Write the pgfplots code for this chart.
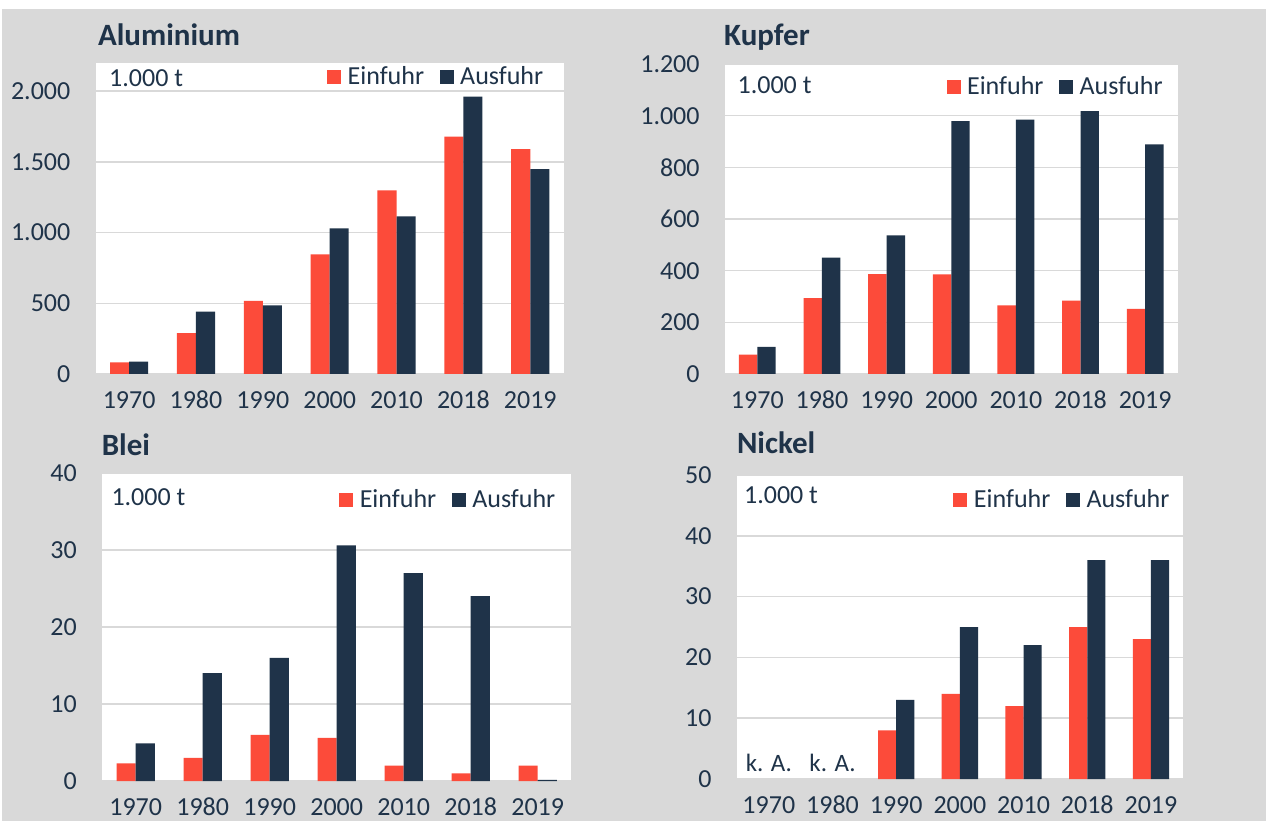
\documentclass[border=0pt]{standalone}
\usepackage{fontspec}
\setmainfont{Carlito}
\usepackage{pgfplots}
\pgfplotsset{compat=1.18}

\definecolor{ein}{HTML}{FC4B3A}
\definecolor{aus}{HTML}{1F3349}
\definecolor{bg}{HTML}{D9D9D9}
\definecolor{gridc}{HTML}{D9D9D9}
\definecolor{txt}{HTML}{1F3349}

\newcommand\ticks{\fontsize{13}{15}\selectfont}
\newcommand\ttl{\fontsize{15.5}{18}\selectfont\bfseries}

\tikzset{
  unitlbl/.style={font=\ticks, text=txt, inner sep=0pt, anchor=west},
  ttlnode/.style={font=\ttl, text=txt, anchor=base west, inner sep=0pt},
}

\pgfplotsset{
  panel/.style={
    scale only axis,
    ybar=0pt, bar width=0.285,
    xmin=-0.5, xmax=6.5, ymin=0,
    enlargelimits=false,
    xtick={0,...,6},
    xticklabels={1970,1980,1990,2000,2010,2018,2019},
    axis background/.style={fill=white},
    axis lines*=left,
    y axis line style={draw=none},
    x axis line style={draw=gridc, line width=0.8pt},
    ymajorgrids,
    major grid style={draw=gridc, line width=0.8pt},
    major tick length=0pt,
    tick label style={font=\ticks, text=txt},
    /pgf/number format/assume math mode=true,
    xticklabel style={inner sep=0pt, text height=0.64em, text depth=0pt, yshift=-10.5pt},
    yticklabel style={inner sep=0pt, xshift=-12.5pt},
    legend columns=2,
    legend image code/.code={\fill[##1] (0pt,-3.5pt) rectangle (7pt,3.5pt);},
    legend style={draw=none, fill=none, inner sep=0pt, anchor=east,
      font=\ticks, text=txt, nodes={inner sep=0pt},
      /tikz/every odd column/.append style={column sep=3.25pt},
      /tikz/every even column/.append style={column sep=7.8pt}},
    legend entries={Einfuhr,Ausfuhr},
  },
}

\begin{document}
\begin{tikzpicture}
\fill[white] (0,0) rectangle (633pt,410.5pt);
\useasboundingbox (0,0) rectangle (633pt,410.5pt);
\fill[bg] (1pt,0) rectangle (633pt,406pt);

% Aluminium
\begin{axis}[panel, at={(47.85pt,223.5pt)}, anchor=south west,
  width=234pt, height=155.5pt, ymax=2200,
  ytick={0,500,1000,1500,2000},
  yticklabels={0,500,1.000,1.500,2.000},
  legend style={at={(0.957,0.955)}}]
\addplot[fill=ein, draw=none] coordinates {(0,82) (1,289) (2,518) (3,847) (4,1299) (5,1680) (6,1591)};
\addplot[fill=aus, draw=none] coordinates {(0,87) (1,442) (2,485) (3,1031) (4,1115) (5,1962) (6,1449)};
\node[unitlbl] at (rel axis cs:0.028,0.952) {1.000 t};
\end{axis}

% Kupfer
\begin{axis}[panel, at={(362.5pt,223.5pt)}, anchor=south west,
  width=226.25pt, height=155pt, ymax=1200,
  ytick={0,200,400,600,800,1000,1200},
  yticklabels={0,200,400,600,800,1.000,1.200},
  legend style={at={(0.968,0.926)}}]
\addplot[fill=ein, draw=none] coordinates {(0,75) (1,294) (2,387) (3,386) (4,266) (5,284) (6,252)};
\addplot[fill=aus, draw=none] coordinates {(0,105) (1,450) (2,537) (3,979) (4,985) (5,1018) (6,889)};
\node[unitlbl] at (rel axis cs:0.027,0.932) {1.000 t};
\end{axis}

% Blei
\begin{axis}[panel, at={(51.1pt,20pt)}, anchor=south west,
  width=234.5pt, height=154pt, ymax=40,
  ytick={0,10,20,30,40},
  legend style={at={(0.967,0.912)}}]
\addplot[fill=ein, draw=none] coordinates {(0,2.3) (1,3.0) (2,6.0) (3,5.6) (4,2.0) (5,1.0) (6,2.0)};
\addplot[fill=aus, draw=none] coordinates {(0,4.9) (1,14.0) (2,16.0) (3,30.6) (4,27.0) (5,24.0) (6,0.15)};
\node[unitlbl] at (rel axis cs:0.019,0.922) {1.000 t};
\end{axis}

% Nickel
\begin{axis}[panel, at={(368.5pt,21pt)}, anchor=south west,
  width=222.9pt, height=152pt, ymax=50,
  ytick={0,10,20,30,40,50},
  legend style={at={(0.971,0.918)}}]
\addplot[fill=ein, draw=none] coordinates {(2,8) (3,14) (4,12) (5,25) (6,23)};
\addplot[fill=aus, draw=none] coordinates {(2,13) (3,25) (4,22) (5,36) (6,36)};
\node[unitlbl] at (rel axis cs:0.015,0.934) {1.000 t};
\node[font=\fontsize{12.5}{14}\selectfont, text=txt, anchor=base, inner sep=0pt] at (axis cs:0,1.3) {k. A.};
\node[font=\fontsize{12.5}{14}\selectfont, text=txt, anchor=base, inner sep=0pt] at (axis cs:1,1.3) {k. A.};
\end{axis}

% titles
\node[ttlnode] at (48.8pt,387.7pt) {Aluminium};
\node[ttlnode] at (361.9pt,387.7pt) {Kupfer};
\node[ttlnode] at (50.7pt,182.8pt) {Blei};
\node[ttlnode] at (368.3pt,183.8pt) {Nickel};
\end{tikzpicture}
\end{document}
